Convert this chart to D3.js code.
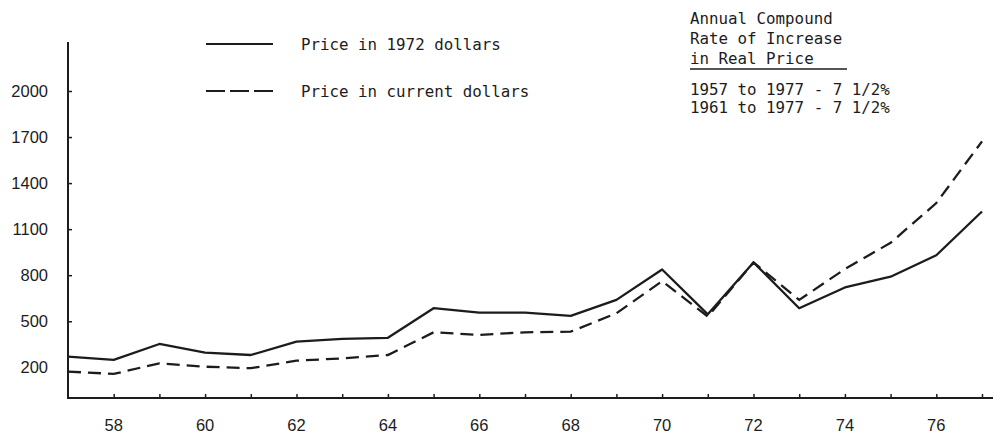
<!DOCTYPE html>
<html>
<head>
<meta charset="utf-8">
<script src="https://cdn.jsdelivr.net/npm/d3@7"></script>
<style>
  body { margin: 0; background: #fff; }
  svg { display: block; }
</style>
</head>
<body>
<div id="chart"></div>
<script>
// values
const years = [1957, 1958, 1959, 1960, 1961, 1962, 1963, 1964, 1965, 1966, 1967,
               1968, 1969, 1970, 1971, 1972, 1973, 1974, 1975, 1976, 1977];
const price1972 = [269, 248, 352, 296, 280, 367, 385, 392, 585, 556, 556,
                   535, 639, 837, 545, 883, 585, 720, 790, 930, 1215];
const priceCurrent = [172, 157, 226, 204, 194, 243, 258, 280, 428, 411, 428,
                      432, 552, 761, 530, 883, 639, 840, 1011, 1270, 1672];
const yTicks = [200, 500, 800, 1100, 1400, 1700, 2000];
const xTickLabels = [58, 60, 62, 64, 66, 68, 70, 72, 74, 76];
const legendLabels = ["Price in 1972 dollars", "Price in current dollars"];
const noteLines = ["Annual Compound", "Rate of Increase", "in Real Price"];
const rateLines = ["1957 to 1977 - 7 1/2%", "1961 to 1977 - 7 1/2%"];

const width = 1001;
const height = 446;
const ink = "#1c1c1c";
const mono = "'DejaVu Sans Mono', monospace";
const sans = "'Liberation Sans', sans-serif";

const svg = d3.select("#chart")
    .append("svg")
    .attr("width", width)
    .attr("height", height);

const xScale = d3.scaleLinear()
    .domain([1957, 1977])
    .range([68, 982]);

const yScale = d3.scaleLinear()
    .domain([0, 2000])
    .range([398, 91]);

// axes drawn by hand-ish, like the typed original
const axisGroup = svg.append("g").attr("id", "axisGroup");

axisGroup.append("line")
    .attr("x1", 68).attr("x2", 68)
    .attr("y1", 42).attr("y2", yScale(0))
    .attr("stroke", ink).attr("stroke-width", 2);

axisGroup.append("line")
    .attr("x1", 67).attr("x2", 993)
    .attr("y1", yScale(0)).attr("y2", yScale(0))
    .attr("stroke", ink).attr("stroke-width", 2);

// y ticks point inwards
const yAxis = d3.axisRight(yScale)
    .tickValues(yTicks.filter(d => d > 200))
    .tickSize(4)
    .tickFormat("");

axisGroup.append("g")
    .attr("transform", "translate(68,0)")
    .call(yAxis)
    .call(g => g.select(".domain").remove())
    .selectAll("line").attr("stroke", ink).attr("stroke-width", 1.5);

axisGroup.append("g")
    .selectAll("text")
    .data(yTicks)
    .enter()
    .append("text")
    .attr("x", 48)
    .attr("y", d => yScale(d))
    .attr("dy", "0.35em")
    .attr("text-anchor", "end")
    .style("font-family", sans)
    .style("font-size", "16.5px")
    .style("fill", ink)
    .text(d => d);

// x ticks point upwards
const xAxis = d3.axisTop(xScale)
    .tickValues(years.slice(1))
    .tickSize(4)
    .tickFormat("");

axisGroup.append("g")
    .attr("transform", `translate(0,${yScale(0)})`)
    .call(xAxis)
    .call(g => g.select(".domain").remove())
    .selectAll("line").attr("stroke", ink).attr("stroke-width", 1.5);

axisGroup.append("g")
    .selectAll("text")
    .data(xTickLabels)
    .enter()
    .append("text")
    .attr("x", d => xScale(1900 + d))
    .attr("y", 425)
    .attr("dy", "0.35em")
    .attr("text-anchor", "middle")
    .style("font-family", sans)
    .style("font-size", "16.5px")
    .style("fill", ink)
    .text(d => d);

// the two price lines
const elementGroup = svg.append("g").attr("id", "elementGroup");

const line = d3.line()
    .x((d, i) => xScale(years[i]))
    .y(d => yScale(d));

elementGroup.append("path")
    .datum(price1972)
    .attr("fill", "none")
    .attr("stroke", ink)
    .attr("stroke-width", 2.3)
    .attr("stroke-linejoin", "round")
    .attr("d", line);

elementGroup.append("path")
    .datum(priceCurrent)
    .attr("fill", "none")
    .attr("stroke", ink)
    .attr("stroke-width", 2.3)
    .attr("stroke-dasharray", "13 7")
    .attr("d", line);

// legend
const legend = svg.append("g").attr("id", "legend");
const legendY = [44, 91];

legend.selectAll("line")
    .data(legendLabels)
    .enter()
    .append("line")
    .attr("x1", 206).attr("x2", 273)
    .attr("y1", (d, i) => legendY[i])
    .attr("y2", (d, i) => legendY[i])
    .attr("stroke", ink)
    .attr("stroke-width", 2)
    .attr("stroke-dasharray", (d, i) => i === 0 ? null : "19 5");

legend.selectAll("text")
    .data(legendLabels)
    .enter()
    .append("text")
    .attr("x", 301)
    .attr("y", (d, i) => legendY[i])
    .attr("dy", "0.35em")
    .style("font-family", mono)
    .style("font-size", "15.8px")
    .style("fill", ink)
    .text(d => d);

// note box, top right
const note = svg.append("g").attr("id", "note");

note.selectAll("text.head")
    .data(noteLines)
    .enter()
    .append("text")
    .attr("class", "head")
    .attr("x", 690)
    .attr("y", (d, i) => 18 + i * 20)
    .attr("dy", "0.35em")
    .style("font-family", mono)
    .style("font-size", "15.8px")
    .style("fill", ink)
    .text(d => d);

note.append("line")
    .attr("x1", 690).attr("x2", 847)
    .attr("y1", 69).attr("y2", 69)
    .attr("stroke", ink)
    .attr("stroke-width", 1.5);

note.selectAll("text.rate")
    .data(rateLines)
    .enter()
    .append("text")
    .attr("class", "rate")
    .attr("x", 690)
    .attr("y", (d, i) => 89 + i * 18)
    .attr("dy", "0.35em")
    .style("font-family", mono)
    .style("font-size", "15.8px")
    .style("fill", ink)
    .text(d => d);
</script>
</body>
</html>
